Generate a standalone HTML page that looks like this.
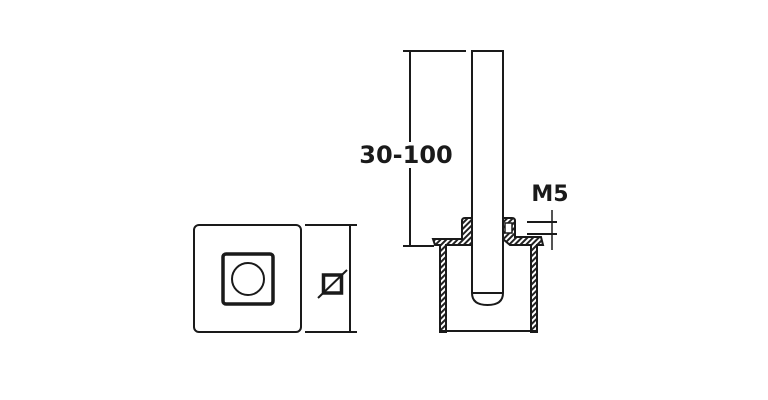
<!DOCTYPE html>
<html><head><style>body{margin:0;background:#fff}svg{display:block}</style></head><body>
<svg width="768" height="400" viewBox="0 0 768 400" xmlns="http://www.w3.org/2000/svg">
<defs>
<pattern id="h" width="4" height="4" patternUnits="userSpaceOnUse" patternTransform="rotate(45)">
<rect width="4" height="4" fill="#fff"/><rect width="2" height="4" fill="#222"/></pattern>
</defs>
<g stroke="#1a1a1a" fill="none">
<rect x="194" y="225" width="107" height="107" rx="5" stroke-width="2"/>
<rect x="223" y="254" width="50" height="50" rx="3" stroke-width="3.5"/>
<circle cx="248" cy="279" r="16" stroke-width="2"/>
<line x1="305" y1="225" x2="357" y2="225" stroke-width="2"/>
<line x1="305" y1="332" x2="357" y2="332" stroke-width="2"/>
<line x1="350" y1="225" x2="350" y2="332" stroke-width="2"/>
<rect x="323.5" y="275" width="18" height="18" stroke-width="3.5"/>
<line x1="318" y1="298" x2="347" y2="270" stroke-width="2"/>
<line x1="410" y1="51" x2="410" y2="246" stroke-width="2"/>
<line x1="403" y1="51" x2="466" y2="51" stroke-width="2"/>
<line x1="403" y1="246" x2="434" y2="246" stroke-width="2"/>
<path d="M433 239 L462 239 L462 221 Q462 218 465 218 L472 218 L472 245 L446 245 L446 332 L440 332 L440 245 L435 245 Z" fill="url(#h)" stroke-width="2"/>
<path d="M503 218 L512 218 Q515 218 515 221 L515 237 L541 237 L543 245 L537 245 L537 332 L531 332 L531 245 L510 245 L503 239 Z" fill="url(#h)" stroke-width="2"/>
<rect x="505" y="223" width="7" height="10" fill="#fff" stroke-width="1.5"/>
<line x1="440" y1="331" x2="537" y2="331" stroke-width="2"/>
<path d="M472 51 L503 51 L503 293 Q503 305 487.5 305 Q472 305 472 293 Z" fill="#fff" stroke-width="2"/>
<line x1="472" y1="293" x2="503" y2="293" stroke-width="2"/>
<line x1="527" y1="222" x2="557" y2="222" stroke-width="2"/>
<line x1="527" y1="234" x2="557" y2="234" stroke-width="2"/>
<line x1="552" y1="210" x2="552" y2="250" stroke-width="1.5"/>
</g>
<rect x="358" y="142" width="97" height="26" fill="#fff"/>
<text x="406" y="163" font-family="DejaVu Sans, sans-serif" font-weight="bold" font-size="24" text-anchor="middle" fill="#1a1a1a">30-100</text>
<text x="550" y="201" font-family="DejaVu Sans, sans-serif" font-weight="bold" font-size="22" text-anchor="middle" fill="#1a1a1a">M5</text>
</svg>
</body></html>
